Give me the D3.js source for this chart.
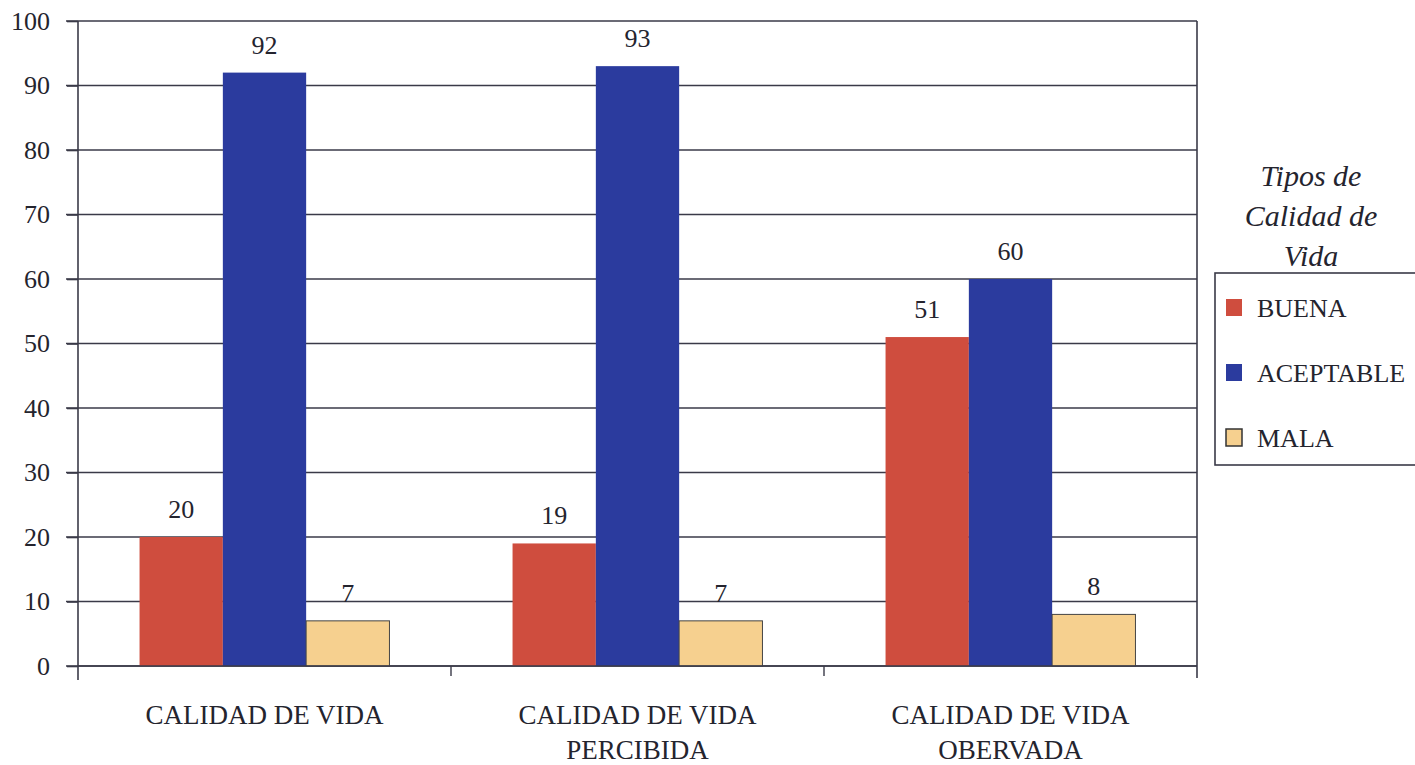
<!DOCTYPE html>
<html><head><meta charset="utf-8">
<script src="https://cdn.jsdelivr.net/npm/d3@7"></script>
<style>body{margin:0;background:#fff}text{font-family:"Liberation Serif","Times New Roman",serif;fill:#24242e}</style>
</head><body>
<svg id="c" width="1415" height="765"></svg>
<script>
const categories = [["CALIDAD DE VIDA"], ["CALIDAD DE VIDA", "PERCIBIDA"], ["CALIDAD DE VIDA", "OBERVADA"]];
const seriesNames = ["BUENA", "ACEPTABLE", "MALA"];
const buena = [20, 19, 51];
const aceptable = [92, 93, 60];
const mala = [7, 7, 8];
const yTicks = [0, 10, 20, 30, 40, 50, 60, 70, 80, 90, 100];
const colors = ["#cf4d3e", "#2b3b9e", "#f6d08f"];
const legendTitle = ["Tipos de", "Calidad de", "Vida"];

const svg = d3.select("#c");
const L = 78, R = 1197, T = 21, B = 666;
const x0 = d3.scaleBand().domain(d3.range(categories.length)).range([L, R]).paddingInner(0.33).paddingOuter(0.165);
const x1 = d3.scaleBand().domain(seriesNames).range([0, x0.bandwidth()]);
const y = d3.scaleLinear().domain([0, 100]).range([B, T]);
const series = [buena, aceptable, mala];

// gridlines
svg.append("g").selectAll("line").data(yTicks).join("line")
  .attr("x1", 66).attr("x2", R).attr("y1", d => y(d)).attr("y2", d => y(d))
  .attr("stroke", "#3a3a48").attr("stroke-width", 1.6);
// right border
svg.append("line").attr("x1", R).attr("x2", R).attr("y1", T).attr("y2", B + 12).attr("stroke", "#3a3a48").attr("stroke-width", 1.6);

// bars
const g = svg.append("g");
categories.forEach((c, i) => {
  seriesNames.forEach((s, j) => {
    const v = series[j][i];
    g.append("rect").attr("x", x0(i) + x1(s)).attr("width", x1.bandwidth())
      .attr("y", y(v)).attr("height", B - y(v)).attr("fill", colors[j])
      .attr("stroke", j === 2 ? "#444" : "none").attr("stroke-width", j === 2 ? 1 : 0);
    g.append("text").attr("x", x0(i) + x1(s) + x1.bandwidth() / 2).attr("y", y(v) - 19)
      .attr("text-anchor", "middle").attr("font-size", 26).text(v);
  });
});

// y axis
const ya = svg.append("g").attr("transform", `translate(${L},0)`)
  .call(d3.axisLeft(y).tickValues(yTicks).tickSize(11).tickPadding(17));
ya.select(".domain").attr("stroke", "#3a3a48").attr("stroke-width", 1.6).attr("d", `M-0,${T}V${B + 14}`);
ya.selectAll(".tick line").attr("stroke", "#3a3a48").attr("stroke-width", 1.6);
ya.selectAll(".tick text").attr("font-size", 26).attr("fill", "#24242e");

// x axis baseline & ticks between groups
svg.append("line").attr("x1", L).attr("x2", R).attr("y1", B).attr("y2", B).attr("stroke", "#3a3a48").attr("stroke-width", 1.6);
const step = x0.step();
[1, 2].forEach(k => {
  const xx = L + step * k;
  svg.append("line").attr("x1", xx).attr("x2", xx).attr("y1", B).attr("y2", B + 10).attr("stroke", "#3a3a48").attr("stroke-width", 1.4);
});

// x labels
categories.forEach((c, i) => {
  const t = svg.append("text").attr("x", x0(i) + x0.bandwidth() / 2).attr("text-anchor", "middle").attr("font-size", 27);
  c.forEach((line, k) => t.append("tspan").attr("x", x0(i) + x0.bandwidth() / 2).attr("y", 724 + k * 35).text(line));
});

// legend
const lt = svg.append("text").attr("text-anchor", "middle").attr("font-size", 30).attr("font-style", "italic");
legendTitle.forEach((l, k) => lt.append("tspan").attr("x", 1311).attr("y", 186 + k * 40).text(l));
svg.append("rect").attr("x", 1215).attr("y", 273).attr("width", 230).attr("height", 192)
  .attr("fill", "none").attr("stroke", "#3a3a48").attr("stroke-width", 1.6);
seriesNames.forEach((s, j) => {
  const yy = 308 + j * 65;
  svg.append("rect").attr("x", 1226).attr("y", yy - 9).attr("width", 16).attr("height", 17)
    .attr("fill", colors[j]).attr("stroke", j === 2 ? "#333" : "none").attr("stroke-width", 1.5);
  svg.append("text").attr("x", 1257).attr("y", yy + 9).attr("font-size", 26).text(s);
});
</script>
</body></html>
